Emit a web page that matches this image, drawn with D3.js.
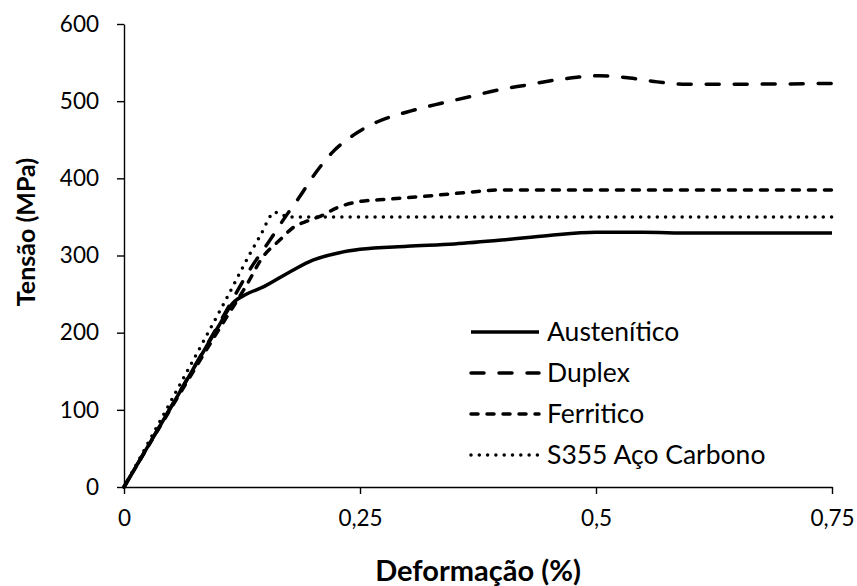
<!DOCTYPE html>
<html>
<head>
<meta charset="utf-8">
<script src="https://cdn.jsdelivr.net/npm/d3@7"></script>
<style>
  html, body { margin: 0; padding: 0; background: #fff; }
  svg { display: block; font-family: Lato, "Open Sans", sans-serif; }
</style>
</head>
<body>
<svg id="chart" width="857" height="586"></svg>
<script>
// Stress–strain curves (strain in %, stress in MPa)
const seriesNames = ["Austenítico", "Duplex", "Ferritico", "S355 Aço Carbono"];

const austenitico = [
  [0, 0], [0.05, 104], [0.1, 208], [0.115, 238], [0.13, 250], [0.147, 259], [0.176, 279],
  [0.2, 294], [0.226, 303], [0.25, 308], [0.3, 312], [0.35, 315], [0.4, 320],
  [0.45, 326], [0.5, 330], [0.55, 330], [0.6, 329], [0.75, 329]
];
const duplex = [
  [0, 0], [0.1, 210], [0.135, 285], [0.153, 317], [0.172, 352], [0.186, 376], [0.2, 402],
  [0.221, 434], [0.243, 456], [0.268, 473], [0.3, 486], [0.335, 497],
  [0.367, 506], [0.398, 515], [0.427, 521], [0.455, 527], [0.48, 531],
  [0.504, 533], [0.536, 530], [0.565, 525], [0.592, 522], [0.65, 522], [0.75, 523]
];
const ferritico = [
  [0, 0], [0.1, 203], [0.13, 262], [0.147, 298], [0.165, 320], [0.18, 337],
  [0.195, 345], [0.21, 352], [0.226, 362], [0.25, 370], [0.28, 373], [0.33, 378],
  [0.365, 382], [0.4, 385], [0.5, 385], [0.75, 385]
];
const s355 = [
  [0, 0], [0.105, 236], [0.144, 325], [0.16, 356], [0.175, 350], [0.3, 350], [0.75, 350]
];

const xTicks = [0, 0.25, 0.5, 0.75];
const yTicks = [0, 100, 200, 300, 400, 500, 600];
const xTitle = "Deformação (%)";
const yTitle = "Tensão (MPa)";

const svg = d3.select("#chart");
const plot = { left: 124, right: 832, top: 24, bottom: 487 };

const x = d3.scaleLinear().domain([0, 0.75]).range([plot.left, plot.right]);
const y = d3.scaleLinear().domain([0, 600]).range([plot.bottom, plot.top]);

const fmt = d => d === 0 ? "0" : String(d).replace(".", ",");

// Axes
const xAxis = svg.append("g")
  .attr("transform", `translate(0,${plot.bottom})`)
  .call(d3.axisBottom(x).tickValues(xTicks).tickFormat(fmt).tickSizeInner(7).tickSizeOuter(0).tickPadding(16));
const yAxis = svg.append("g")
  .attr("transform", `translate(${plot.left},0)`)
  .call(d3.axisLeft(y).tickValues(yTicks).tickSizeInner(7).tickSizeOuter(0).tickPadding(18));

[xAxis, yAxis].forEach(g => {
  g.select(".domain").attr("stroke", "#000").attr("stroke-width", 1.4);
  g.selectAll(".tick line").attr("stroke", "#000").attr("stroke-width", 1.4);
  g.selectAll(".tick text").attr("fill", "#000")
    .style("font-size", "22.5px").style("font-family", "Lato, 'Open Sans', sans-serif");
});

// Axis titles
svg.append("text")
  .attr("x", (plot.left + plot.right) / 2).attr("y", 581)
  .attr("text-anchor", "middle")
  .style("font-size", "29px").style("font-weight", "bold")
  .text(xTitle);
svg.append("text")
  .attr("transform", "translate(35,232) rotate(-90)")
  .attr("text-anchor", "middle")
  .style("font-size", "25px").style("font-weight", "bold")
  .text(yTitle);

// Line styles per series
const styles = [
  { data: austenitico, dash: null, cap: "butt" },
  { data: duplex, dash: "13,15", cap: "round" },
  { data: ferritico, dash: "7,9", cap: "round" },
  { data: s355, dash: "0,8.3", cap: "round" }
];

const line = d3.line()
  .x(d => x(d[0]))
  .y(d => y(d[1]))
  .curve(d3.curveMonotoneX);

styles.forEach(s => {
  svg.append("path")
    .datum(s.data)
    .attr("fill", "none")
    .attr("stroke", "#000")
    .attr("stroke-width", 3.5)
    .attr("stroke-linecap", s.cap)
    .attr("stroke-dasharray", s.dash)
    .attr("d", line);
});

// Legend
const legend = svg.append("g");
seriesNames.forEach((name, i) => {
  const ly = 332 + 41 * i;
  const s = styles[i];
  legend.append("line")
    .attr("x1", 471).attr("x2", 539)
    .attr("y1", ly).attr("y2", ly)
    .attr("stroke", "#000").attr("stroke-width", 3.5)
    .attr("stroke-linecap", s.cap)
    .attr("stroke-dasharray", s.dash);
  legend.append("text")
    .attr("x", 547).attr("y", ly)
    .attr("dy", "0.35em")
    .style("font-size", "26.5px")
    .text(name);
});
</script>
</body>
</html>
